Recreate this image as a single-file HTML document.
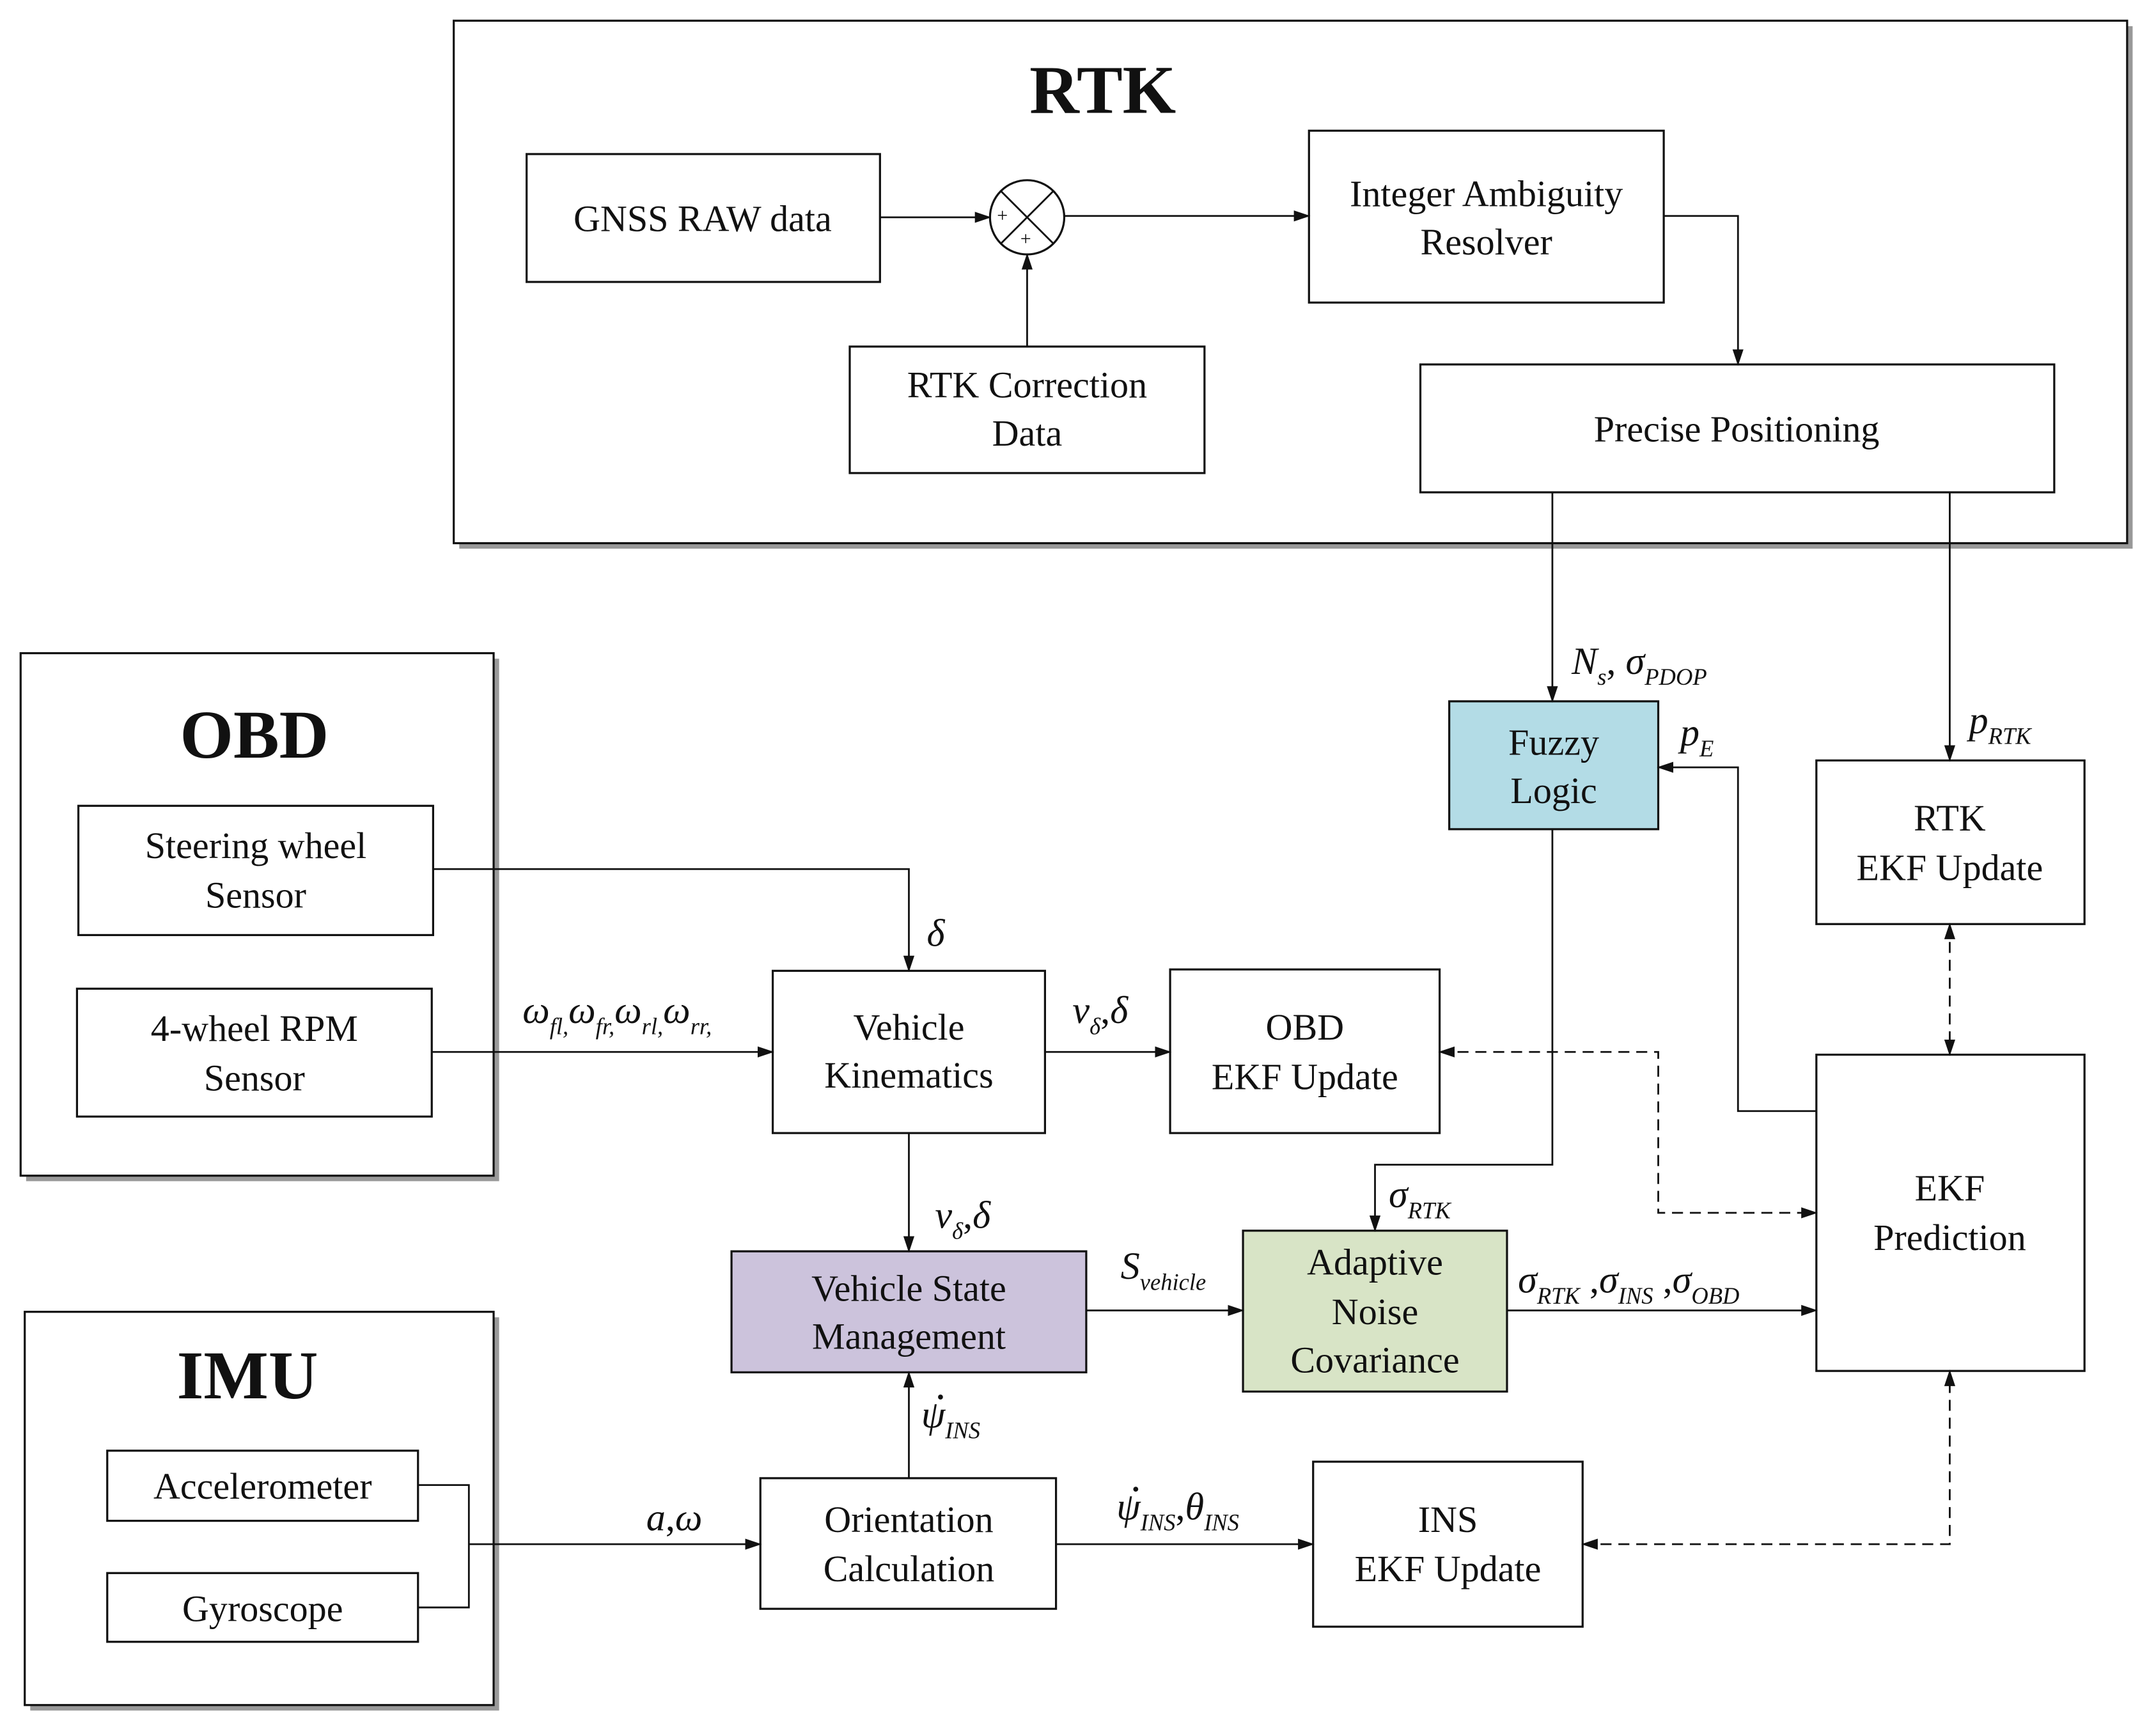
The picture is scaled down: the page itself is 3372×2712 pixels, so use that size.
<!DOCTYPE html>
<html><head><meta charset="utf-8"><style>
html,body{margin:0;padding:0;background:#fff}
svg{display:block}
text{font-family:"Liberation Serif",serif;fill:#111}
.t{font-size:27px;text-anchor:middle}
.h{font-size:50px;font-weight:bold;text-anchor:middle}
.m{font-size:28px;font-style:italic}
.s{font-size:17px;font-style:italic}
</style></head><body>
<svg width="3372" height="2712" viewBox="0 0 1568 1261" xmlns="http://www.w3.org/2000/svg">
<defs>
<marker id="a" markerWidth="12" markerHeight="10" refX="11" refY="5" orient="auto" markerUnits="userSpaceOnUse"><path d="M0,1 L12,5 L0,9 z" fill="#111"/></marker>
<marker id="b" markerWidth="12" markerHeight="10" refX="1" refY="5" orient="auto" markerUnits="userSpaceOnUse"><path d="M12,1 L0,5 L12,9 z" fill="#111"/></marker>
</defs>
<g fill="#fff" stroke="#111" stroke-width="1.5">
<rect x="334" y="19" width="1217" height="380" fill="#999" stroke="none"/>
<rect x="19" y="479" width="344" height="380" fill="#999" stroke="none"/>
<rect x="22" y="958" width="341" height="286" fill="#999" stroke="none"/>
<rect x="330" y="15" width="1217" height="380"/>
<rect x="15" y="475" width="344" height="380"/>
<rect x="18" y="954" width="341" height="286"/>
<rect x="383" y="112" width="257" height="93"/>
<rect x="618" y="252" width="258" height="92"/>
<rect x="952" y="95" width="258" height="125"/>
<rect x="1033" y="265" width="461" height="93"/>
<rect x="1054" y="510" width="152" height="93" fill="#b3dce6"/>
<rect x="1321" y="553" width="195" height="119"/>
<rect x="1321" y="767" width="195" height="230"/>
<rect x="57" y="586" width="258" height="94"/>
<rect x="56" y="719" width="258" height="93"/>
<rect x="562" y="706" width="198" height="118"/>
<rect x="851" y="705" width="196" height="119"/>
<rect x="532" y="910" width="258" height="88" fill="#ccc3dc"/>
<rect x="904" y="895" width="192" height="117" fill="#d8e4c6"/>
<rect x="78" y="1055" width="226" height="51"/>
<rect x="78" y="1144" width="226" height="50"/>
<rect x="553" y="1075" width="215" height="95"/>
<rect x="955" y="1063" width="196" height="120"/>
<circle cx="747" cy="158" r="27"/>
</g>
<g stroke="#111" stroke-width="1.3" fill="none">
<line x1="728" y1="139" x2="766" y2="177"/><line x1="766" y1="139" x2="728" y2="177"/>
<line x1="640" y1="158" x2="720" y2="158" marker-end="url(#a)"/>
<line x1="747" y1="252" x2="747" y2="185" marker-end="url(#a)"/>
<line x1="774" y1="157" x2="952" y2="157" marker-end="url(#a)"/>
<polyline points="1210,157 1264,157 1264,265" marker-end="url(#a)"/>
<line x1="1129" y1="358" x2="1129" y2="510" marker-end="url(#a)"/>
<line x1="1418" y1="358" x2="1418" y2="553" marker-end="url(#a)"/>
<polyline points="1321,808 1264,808 1264,558 1206,558" marker-end="url(#a)"/>
<polyline points="1129,603 1129,847 1000,847 1000,895" marker-end="url(#a)"/>
<polyline points="315,632 661,632 661,706" marker-end="url(#a)"/>
<line x1="314" y1="765" x2="562" y2="765" marker-end="url(#a)"/>
<line x1="760" y1="765" x2="851" y2="765" marker-end="url(#a)"/>
<line x1="661" y1="824" x2="661" y2="910" marker-end="url(#a)"/>
<line x1="790" y1="953" x2="904" y2="953" marker-end="url(#a)"/>
<line x1="1096" y1="953" x2="1321" y2="953" marker-end="url(#a)"/>
<polyline points="304,1080 341,1080 341,1169 304,1169"/>
<line x1="341" y1="1123" x2="553" y2="1123" marker-end="url(#a)"/>
<line x1="661" y1="1075" x2="661" y2="998" marker-end="url(#a)"/>
<line x1="768" y1="1123" x2="955" y2="1123" marker-end="url(#a)"/>
<g stroke-dasharray="8,5">
<line x1="1418" y1="672" x2="1418" y2="767" marker-start="url(#b)" marker-end="url(#a)"/>
<polyline points="1047,765 1206,765 1206,882 1321,882" marker-start="url(#b)" marker-end="url(#a)"/>
<polyline points="1151,1123 1418,1123 1418,997" marker-start="url(#b)" marker-end="url(#a)"/>
</g>
</g>
<text x="802" y="82" class="h">RTK</text>
<text x="185" y="551" class="h">OBD</text>
<text x="180" y="1017" class="h">IMU</text>
<text x="511" y="168" class="t">GNSS RAW data</text>
<text x="729" y="161" style="font-size:14px" text-anchor="middle">+</text>
<text x="746" y="178" style="font-size:14px" text-anchor="middle">+</text>
<text x="747" y="289" class="t">RTK Correction</text><text x="747" y="324" class="t">Data</text>
<text x="1081" y="150" class="t">Integer Ambiguity</text><text x="1081" y="185" class="t">Resolver</text>
<text x="1263" y="321" class="t">Precise Positioning</text>
<text x="1130" y="549" class="t">Fuzzy</text><text x="1130" y="584" class="t">Logic</text>
<text x="1418" y="604" class="t">RTK</text><text x="1418" y="640" class="t">EKF Update</text>
<text x="1418" y="873" class="t">EKF</text><text x="1418" y="909" class="t">Prediction</text>
<text x="186" y="624" class="t">Steering wheel</text><text x="186" y="660" class="t">Sensor</text>
<text x="185" y="757" class="t">4-wheel RPM</text><text x="185" y="793" class="t">Sensor</text>
<text x="661" y="756" class="t">Vehicle</text><text x="661" y="791" class="t">Kinematics</text>
<text x="949" y="756" class="t">OBD</text><text x="949" y="792" class="t">EKF Update</text>
<text x="661" y="946" class="t">Vehicle State</text><text x="661" y="981" class="t">Management</text>
<text x="1000" y="927" class="t">Adaptive</text><text x="1000" y="963" class="t">Noise</text><text x="1000" y="998" class="t">Covariance</text>
<text x="191" y="1090" class="t">Accelerometer</text>
<text x="191" y="1179" class="t">Gyroscope</text>
<text x="661" y="1114" class="t">Orientation</text><text x="661" y="1150" class="t">Calculation</text>
<text x="1053" y="1114" class="t">INS</text><text x="1053" y="1150" class="t">EKF Update</text>
<text x="1143" y="490" class="m">N<tspan class="s" dy="8">s</tspan><tspan dy="-8" font-style="normal">, </tspan>σ<tspan class="s" dy="8">PDOP</tspan></text>
<text x="1432" y="533" class="m">p<tspan class="s" dy="8">RTK</tspan></text>
<text x="1222" y="542" class="m">p<tspan class="s" dy="8">E</tspan></text>
<text x="1010" y="878" class="m">σ<tspan class="s" dy="8">RTK</tspan></text>
<text x="674" y="688" class="m">δ</text>
<text x="380" y="744" class="m">ω<tspan class="s" dy="8">fl,</tspan><tspan dy="-8">ω</tspan><tspan class="s" dy="8">fr,</tspan><tspan dy="-8">ω</tspan><tspan class="s" dy="8">rl,</tspan><tspan dy="-8">ω</tspan><tspan class="s" dy="8">rr,</tspan></text>
<text x="780" y="744" class="m">v<tspan class="s" dy="8">δ</tspan><tspan dy="-8" font-style="normal">,</tspan>δ</text>
<text x="680" y="893" class="m">v<tspan class="s" dy="8">δ</tspan><tspan dy="-8" font-style="normal">,</tspan>δ</text>
<text x="815" y="930" class="m">S<tspan class="s" dy="8">vehicle</tspan></text>
<text x="1104" y="940" class="m">σ<tspan class="s" dy="8">RTK</tspan><tspan dy="-8" font-style="normal"> ,</tspan>σ<tspan class="s" dy="8">INS</tspan><tspan dy="-8" font-style="normal"> ,</tspan>σ<tspan class="s" dy="8">OBD</tspan></text>
<text x="470" y="1113" class="m">a<tspan font-style="normal">,</tspan>ω</text>
<text x="670" y="1038" class="m">ψ<tspan class="s" dy="8">INS</tspan></text>
<circle cx="684" cy="1016" r="1.8" fill="#111"/>
<text x="812" y="1105" class="m">ψ<tspan class="s" dy="8">INS</tspan><tspan dy="-8" font-style="normal">,</tspan>θ<tspan class="s" dy="8">INS</tspan></text>
<circle cx="826" cy="1083" r="1.8" fill="#111"/>
</svg>
</body></html>
